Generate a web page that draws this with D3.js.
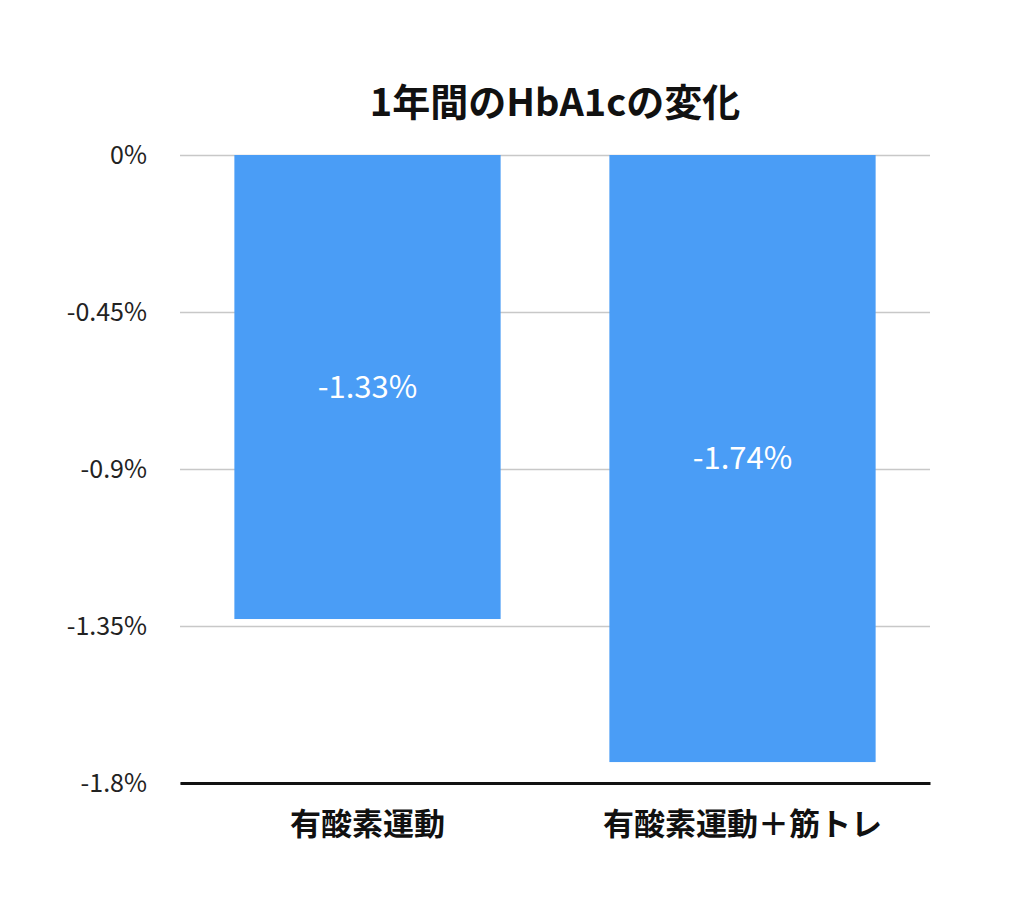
<!DOCTYPE html>
<html><head><meta charset="utf-8">
<script src="https://cdn.jsdelivr.net/npm/d3@7"></script>
<style>body{margin:0;background:#fff}</style>
</head><body>
<script>
const categories = ["有酸素運動", "有酸素運動＋筋トレ"];
const values = [-1.33, -1.74];
const valueLabels = ["-1.33%", "-1.74%"];
const tickValues = [0, -0.45, -0.9, -1.35, -1.8];
const tickLabels = ["0%", "-0.45%", "-0.9%", "-1.35%", "-1.8%"];
const title = "1年間のHbA1cの変化";

const W = 1024, H = 917;
const font = "'Noto Sans CJK JP', 'Noto Sans', sans-serif";
const svg = d3.select("body").append("svg").attr("width", W).attr("height", H);

const x = d3.scaleBand().domain(categories).range([180, 930]).paddingInner(0.29).paddingOuter(0.145);
const y = d3.scaleLinear().domain([0, -1.8]).range([155, 783]);

svg.append("text").attr("x", 555).attr("y", 116).attr("text-anchor", "middle")
  .attr("font-family", font).attr("font-weight", "bold").attr("font-size", 38).attr("fill", "#111").text(title);

const yAxis = svg.append("g").attr("transform", "translate(180,0)")
  .call(d3.axisLeft(y).tickValues(tickValues).tickSize(-750).tickFormat((d, i) => tickLabels[i]));
yAxis.select(".domain").remove();
yAxis.selectAll(".tick line").attr("stroke", "#c8c8c8").attr("stroke-width", 1.5);
yAxis.selectAll(".tick text").attr("x", -33).attr("font-family", font).attr("font-size", 25).attr("fill", "#222");

svg.selectAll("rect.bar").data(values).join("rect").attr("class", "bar")
  .attr("x", (d, i) => x(categories[i])).attr("width", x.bandwidth())
  .attr("y", y(0)).attr("height", d => y(d) - y(0)).attr("fill", "#4a9df6");

svg.selectAll("text.vl").data(values).join("text").attr("class", "vl")
  .attr("x", (d, i) => x(categories[i]) + x.bandwidth() / 2)
  .attr("y", d => (y(0) + y(d)) / 2).attr("dy", "0.35em").attr("text-anchor", "middle")
  .attr("font-family", font).attr("font-size", 31).attr("fill", "#fff").text((d, i) => valueLabels[i]);

const xAxis = svg.append("g").attr("transform", `translate(0,${y(-1.8)})`)
  .call(d3.axisBottom(x).tickSize(0).tickPadding(30));
xAxis.select(".domain").attr("stroke", "#111").attr("stroke-width", 3);
xAxis.selectAll(".tick text").attr("font-family", font).attr("font-weight", "bold").attr("font-size", 31).attr("fill", "#111");
</script>
</body></html>
